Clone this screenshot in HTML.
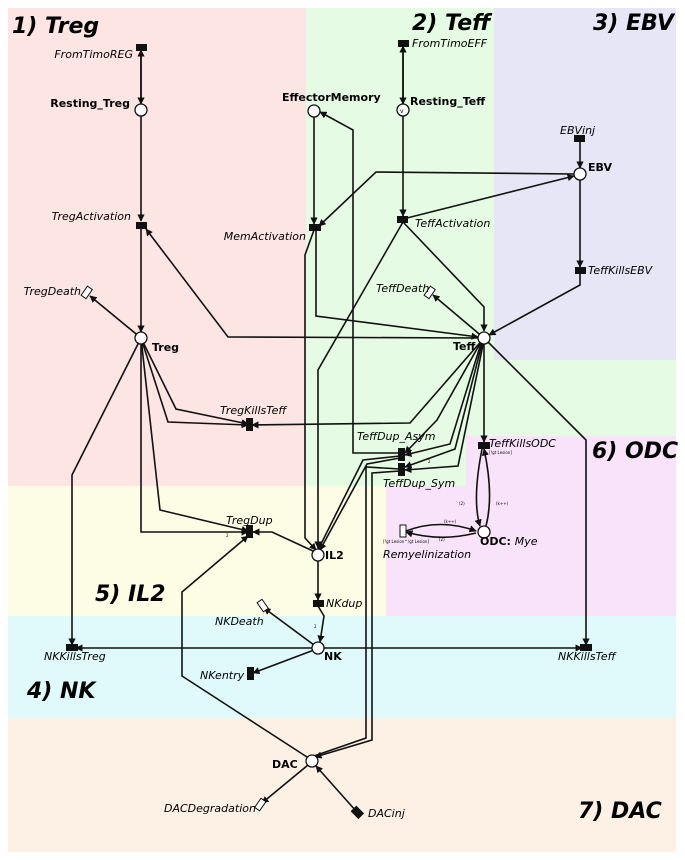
<!DOCTYPE html>
<html><head><meta charset="utf-8"><style>
html,body{margin:0;padding:0;background:#fff}
svg{display:block}
text{font-family:"DejaVu Sans","Liberation Sans",sans-serif}
.t{font-size:11px;font-style:italic}
.b{font-size:11px;font-weight:bold}
.h{font-size:22px;font-weight:bold;font-style:italic}
.e{fill:none;stroke:#111;stroke-width:1.6}
.s{font-size:4px}
</style></head><body>
<svg width="685" height="860" viewBox="0 0 685 860" xmlns="http://www.w3.org/2000/svg">
<defs>
<marker id="a" viewBox="0 0 10 10" refX="9" refY="5" markerWidth="4.5" markerHeight="4.5" orient="auto"><path d="M0,0L10,5L0,10z" fill="#111"/></marker>
</defs>
<rect width="685" height="860" fill="#fff"/>
<rect x="8" y="8" width="298" height="478" fill="#fde5e3"/>
<rect x="306" y="8" width="370" height="428" fill="#e5fbe3"/>
<rect x="494" y="8" width="182" height="352" fill="#e6e6f6"/>
<rect x="8" y="486" width="378" height="130" fill="#fdfde6"/>
<rect x="386" y="436" width="290" height="180" fill="#f9e3fb"/>
<rect x="306" y="436" width="160" height="50" fill="#e5fbe3"/>
<rect x="8" y="616" width="668" height="102" fill="#e0fafb"/>
<rect x="8" y="718" width="668" height="134" fill="#fdf1e6"/>
<text class="h" x="12" y="33">1) Treg</text>
<text class="h" x="412" y="30">2) Teff</text>
<text class="h" x="593" y="30">3) EBV</text>
<text class="h" x="592" y="458">6) ODC</text>
<text class="h" x="95" y="601">5) IL2</text>
<text class="h" x="27" y="698">4) NK</text>
<text class="h" x="578" y="818">7) DAC</text>
<g class="e">
<path d="M141,104V50" marker-end="url(#a)"/>
<path d="M141,54V104" marker-end="url(#a)"/>
<path d="M141,116V221" marker-end="url(#a)"/>
<path d="M141,228V332" marker-end="url(#a)"/>
<path d="M141,338L90,296" marker-end="url(#a)"/>
<path d="M478,338L228,337L146,229" marker-end="url(#a)"/>
<path d="M403,104V46" marker-end="url(#a)"/>
<path d="M403,48V104" marker-end="url(#a)"/>
<path d="M403,116V216" marker-end="url(#a)"/>
<path d="M403,219L574,176" marker-end="url(#a)"/>
<path d="M403,222L484,307L484,331" marker-end="url(#a)"/>
<path d="M403,222L318,370L318,548" marker-end="url(#a)"/>
<path d="M314,117V224" marker-end="url(#a)"/>
<path d="M316,230V316L478,337" marker-end="url(#a)"/>
<path d="M574,174L376,172L319,226" marker-end="url(#a)"/>
<path d="M314,230L305,255V538L316,550" marker-end="url(#a)"/>
<path d="M402,453H353V130L320,112" marker-end="url(#a)"/>
<path d="M580,141V168" marker-end="url(#a)"/>
<path d="M580,180V267" marker-end="url(#a)"/>
<path d="M580,273V285L489,335" marker-end="url(#a)"/>
<path d="M484,338L433,295" marker-end="url(#a)"/>
<path d="M141,338L176,409L248,424" marker-end="url(#a)"/>
<path d="M141,338L168,422L248,425" marker-end="url(#a)"/>
<path d="M484,338L410,423L252,425" marker-end="url(#a)"/>
<path d="M141,338V532H248" marker-end="url(#a)"/>
<path d="M141,338L160,510L248,531" marker-end="url(#a)"/>
<path d="M313,551L272,532L253,532" marker-end="url(#a)"/>
<path d="M141,338L72,475V645" marker-end="url(#a)"/>
<path d="M312,648H76" marker-end="url(#a)"/>
<path d="M324,648H582" marker-end="url(#a)"/>
<path d="M484,338L586,440V645" marker-end="url(#a)"/>
<path d="M484,338V442" marker-end="url(#a)"/>
<path d="M482,449Q472,500 480,526" marker-end="url(#a)"/>
<path d="M486,526Q494,495 484,449" marker-end="url(#a)"/>
<path d="M406,531Q440,518 476,531" marker-end="url(#a)"/>
<path d="M476,533Q440,542 406,532" marker-end="url(#a)"/>
<path d="M482,340L437,420L405,453" marker-end="url(#a)"/>
<path d="M482,340L450,444L405,455" marker-end="url(#a)"/>
<path d="M483,340L455,449L405,467" marker-end="url(#a)"/>
<path d="M484,340L458,466L405,470" marker-end="url(#a)"/>
<path d="M400,456L363,460L318,550" marker-end="url(#a)"/>
<path d="M400,458L367,464L320,550" marker-end="url(#a)"/>
<path d="M400,471L372,473V740L315,757" marker-end="url(#a)"/>
<path d="M400,469L366,467V738L314,756"/>
<path d="M307,757L182,676V592L248,536" marker-end="url(#a)"/>
<path d="M308,765L262,803" marker-end="url(#a)"/>
<path d="M356,811L316,766" marker-end="url(#a)"/>
<path d="M318,561V600" marker-end="url(#a)"/>
<path d="M318,606L324,616L320,642" marker-end="url(#a)"/>
<path d="M314,645L264,608" marker-end="url(#a)"/>
<path d="M314,650L253,673" marker-end="url(#a)"/>
</g>
<g fill="#fff" stroke="#111" stroke-width="1.3">
<circle cx="141" cy="110" r="6"/>
<circle cx="141" cy="338" r="6"/>
<circle cx="314" cy="111" r="6"/>
<circle cx="403" cy="110" r="6"/>
<circle cx="580" cy="174" r="6"/>
<circle cx="484" cy="338" r="6"/>
<circle cx="484" cy="532" r="6"/>
<circle cx="318" cy="555" r="6"/>
<circle cx="318" cy="648" r="6"/>
<circle cx="312" cy="761" r="6"/>
</g>
<text x="400" y="113" font-size="6">v</text>
<g fill="#111">
<rect x="136" y="44" width="11" height="7"/>
<rect x="136" y="222" width="11" height="7"/>
<rect x="398" y="40" width="11" height="7"/>
<rect x="574" y="135" width="11" height="7"/>
<rect x="309" y="224" width="12" height="7"/>
<rect x="397" y="216" width="11" height="7"/>
<rect x="575" y="267" width="11" height="7"/>
<rect x="246" y="418" width="7" height="13"/>
<rect x="398" y="448" width="7" height="13"/>
<rect x="398" y="463" width="7" height="13"/>
<rect x="478" y="442" width="12" height="7"/>
<rect x="246" y="525" width="7" height="13"/>
<rect x="313" y="600" width="11" height="7"/>
<rect x="66" y="644" width="12" height="7"/>
<rect x="580" y="644" width="12" height="7"/>
<rect x="247" y="667" width="7" height="13"/>
<rect x="353" y="807" width="8" height="11" transform="rotate(-45 357 812)"/>
</g>
<g fill="#fff" stroke="#111" stroke-width="1">
<rect x="84" y="287" width="6" height="11" transform="rotate(35 87 292)"/>
<rect x="427" y="287" width="6" height="11" transform="rotate(35 430 292)"/>
<rect x="400" y="525" width="6" height="12"/>
<rect x="260" y="600" width="6" height="11" transform="rotate(-35 263 606)"/>
<rect x="257" y="799" width="6" height="11" transform="rotate(35 260 805)"/>
</g>
<text class="t" x="133" y="58" text-anchor="end">FromTimoREG</text>
<text class="b" x="130" y="107" text-anchor="end">Resting_Treg</text>
<text class="t" x="131" y="220" text-anchor="end">TregActivation</text>
<text class="t" x="81" y="295" text-anchor="end">TregDeath</text>
<text class="b" x="152" y="351">Treg</text>
<text class="b" x="282" y="101">EffectorMemory</text>
<text class="b" x="410" y="105">Resting_Teff</text>
<text class="t" x="412" y="47">FromTimoEFF</text>
<text class="t" x="560" y="134">EBVinj</text>
<text class="b" x="588" y="171">EBV</text>
<text class="t" x="306" y="240" text-anchor="end">MemActivation</text>
<text class="t" x="415" y="227">TeffActivation</text>
<text class="t" x="588" y="274">TeffKillsEBV</text>
<text class="t" x="376" y="292">TeffDeath</text>
<text class="b" x="453" y="350">Teff</text>
<text class="t" x="220" y="414">TregKillsTeff</text>
<text class="t" x="357" y="440">TeffDup_Asym</text>
<text class="t" x="383" y="487">TeffDup_Sym</text>
<text class="t" x="489" y="447">TeffKillsODC</text>
<text class="b" x="480" y="545">ODC: <tspan font-weight="normal" font-style="italic">Mye</tspan></text>
<text class="t" x="383" y="558">Remyelinization</text>
<text class="t" x="226" y="524">TregDup</text>
<text class="b" x="325" y="559">IL2</text>
<text class="t" x="326" y="607">NKdup</text>
<text class="t" x="215" y="625">NKDeath</text>
<text class="b" x="324" y="660">NK</text>
<text class="t" x="44" y="660">NKKillsTreg</text>
<text class="t" x="558" y="660">NKKillsTeff</text>
<text class="t" x="200" y="679">NKentry</text>
<text class="b" x="272" y="768">DAC</text>
<text class="t" x="164" y="812">DACDegradation</text>
<text class="t" x="368" y="817">DACinj</text>
<text class="s" x="489" y="454">[!gt Lesion]</text>
<text class="s" x="459" y="505">(2)</text>
<text class="s" x="496" y="505">(k++)</text>
<text class="s" x="444" y="523">(k++)</text>
<text class="s" x="439" y="541">(2)</text>
<text class="s" x="383" y="543">[!gt Lesion^!gt Lesion]</text>
<text class="s" x="428" y="463">2</text>
<text class="s" x="226" y="537">2</text>
<text class="s" x="314" y="628">2</text>
</svg>
</body></html>
